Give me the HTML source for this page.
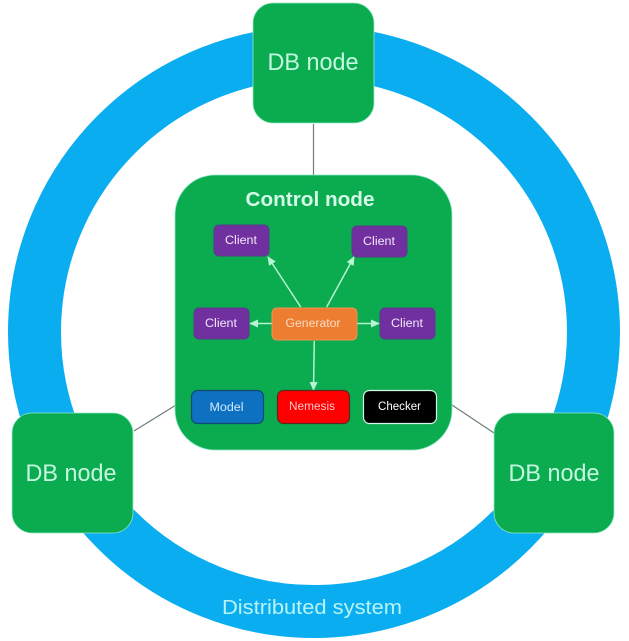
<!DOCTYPE html>
<html>
<head>
<meta charset="utf-8">
<style>
html,body{margin:0;padding:0;background:#fff;width:629px;height:641px;overflow:hidden}
svg{display:block}
text{font-family:"Liberation Sans",sans-serif;text-anchor:middle}
</style>
</head>
<body>
<svg width="629" height="641" viewBox="0 0 629 641" xmlns="http://www.w3.org/2000/svg">
<defs>
<marker id="a" markerWidth="10" markerHeight="10" refX="8" refY="4" orient="auto" markerUnits="userSpaceOnUse"><path d="M0 0L9 4L0 8Z" fill="#b5f5d2"/></marker>
</defs>
<rect width="629" height="641" fill="#fff"/>
<circle cx="314" cy="332" r="279.5" fill="none" stroke="#0aaef0" stroke-width="53"/>
<g stroke="#6e7f78" stroke-width="1.2">
<line x1="313.500" y1="124" x2="313.500" y2="176"/>
<line x1="134" y1="431" x2="176" y2="405"/>
<line x1="452" y1="405" x2="494" y2="433"/>
</g>
<g fill="#0bab50" stroke="#8fe8c4" stroke-width="0.8">
<rect x="253" y="3" width="121" height="120" rx="20"/>
<rect x="12" y="413" width="121" height="120" rx="20"/>
<rect x="494" y="413" width="120" height="120" rx="20"/>
<rect x="175" y="175" width="277" height="275" rx="40"/>
</g>
<g font-size="24" fill="#c4f8e0">
<text x="313" y="70" textLength="91" lengthAdjust="spacingAndGlyphs">DB node</text>
<text x="71" y="481" textLength="91" lengthAdjust="spacingAndGlyphs">DB node</text>
<text x="554" y="481" textLength="91" lengthAdjust="spacingAndGlyphs">DB node</text>
</g>
<text x="310" y="206" font-size="20" font-weight="bold" fill="#d6fbe8" textLength="129" lengthAdjust="spacingAndGlyphs">Control node</text>
<text x="312" y="614" font-size="20" fill="#b8f3f8" textLength="180" lengthAdjust="spacingAndGlyphs">Distributed system</text>
<g stroke="#b5f5d2" stroke-width="1.5" fill="none">
<line x1="300.700" y1="307" x2="268" y2="257" marker-end="url(#a)"/>
<line x1="326.700" y1="307" x2="354" y2="257" marker-end="url(#a)"/>
<line x1="272" y1="323.500" x2="250" y2="323.500" marker-end="url(#a)"/>
<line x1="357" y1="323.500" x2="379" y2="323.500" marker-end="url(#a)"/>
<line x1="314.300" y1="341" x2="313.500" y2="390" marker-end="url(#a)"/>
</g>
<g fill="#7030a0" stroke="#5c3a8c" stroke-width="1">
<rect x="214" y="225" width="55" height="31" rx="5"/>
<rect x="352" y="226" width="55" height="31" rx="5"/>
<rect x="194" y="308" width="55" height="31" rx="5"/>
<rect x="380" y="308" width="55" height="31" rx="5"/>
</g>
<rect x="272" y="308" width="85" height="32" rx="5" fill="#ed7d31" stroke="#f0924f"/>
<rect x="191.500" y="390.500" width="72" height="33" rx="6" fill="#0e70c0" stroke="#0f4a70" stroke-width="1.2"/>
<rect x="277.500" y="390.500" width="72" height="33" rx="6" fill="#ff0000" stroke="#5a2a20" stroke-width="1.200"/>
<rect x="363.500" y="390.500" width="73" height="33" rx="6" fill="#000" stroke="#d6f8e6" stroke-width="1.200"/>
<g font-size="11.500" fill="#f4e6fa">
<text x="241" y="244" textLength="32" lengthAdjust="spacingAndGlyphs">Client</text>
<text x="379" y="245" textLength="32" lengthAdjust="spacingAndGlyphs">Client</text>
<text x="221" y="327" textLength="32" lengthAdjust="spacingAndGlyphs">Client</text>
<text x="407" y="327" textLength="32" lengthAdjust="spacingAndGlyphs">Client</text>
</g>
<text x="313" y="327" font-size="11.500" fill="#fbdcc4" textLength="55" lengthAdjust="spacingAndGlyphs">Generator</text>
<text x="226.500" y="411" font-size="11.500" fill="#cfeaff" textLength="34" lengthAdjust="spacingAndGlyphs">Model</text>
<text x="312" y="410" font-size="11.500" fill="#ffc8c8" textLength="46" lengthAdjust="spacingAndGlyphs">Nemesis</text>
<text x="399.500" y="410" font-size="11.500" fill="#fff" textLength="43" lengthAdjust="spacingAndGlyphs">Checker</text>
</svg>
</body>
</html>
